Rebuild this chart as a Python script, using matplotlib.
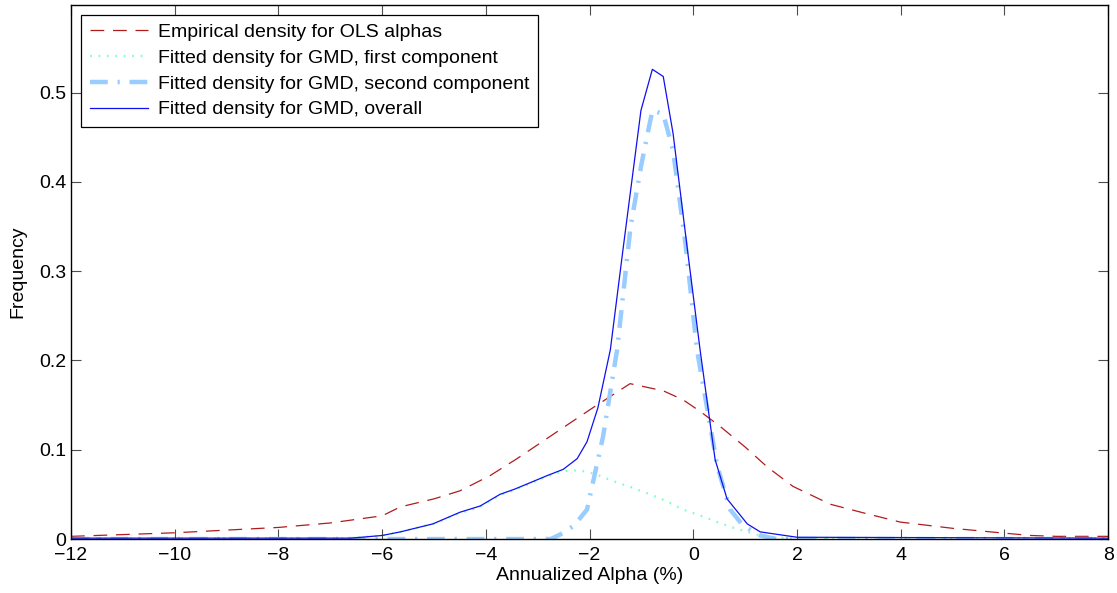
import numpy as np
import matplotlib
matplotlib.use("Agg")
import matplotlib.pyplot as plt
from matplotlib.ticker import FuncFormatter

plt.rcParams['font.family'] = ['Liberation Sans', 'DejaVu Sans']

# empirical density of OLS alphas
emp_x = [-12, -11, -10, -9, -8, -7, -6, -5.65, -5, -4.5, -3.92, -3.4, -2.76, -1.99,
         -1.22, -0.58, -0.2, 0.13, 0.52, 1.0, 1.42, 1.92, 2.64, 3.3, 3.99, 5.0,
         5.92, 6.5, 7, 8]
emp_y = [0.003, 0.005, 0.007, 0.010, 0.013, 0.018, 0.026, 0.036, 0.045, 0.054,
         0.071, 0.090, 0.115, 0.145, 0.174, 0.166, 0.156, 0.143, 0.126, 0.103,
         0.081, 0.059, 0.039, 0.029, 0.019, 0.012, 0.007, 0.004, 0.003, 0.003]

# GMD first component
first_x = [-12, -6.6, -6.0, -5.65, -5.02, -4.5, -4.11, -3.73, -3.44, -3.15, -2.82,
           -2.51, -2.2, -1.9, -1.55, -1.2, -0.83, -0.5, -0.2, 0.15, 0.46, 0.75,
           1.04, 1.42, 2.0, 8]
first_y = [0.001, 0.001, 0.004, 0.008, 0.017, 0.029, 0.036, 0.049, 0.055, 0.062,
           0.070, 0.076, 0.077, 0.073, 0.065, 0.058, 0.050, 0.042, 0.033, 0.026,
           0.019, 0.013, 0.008, 0.002, 0.001, 0.001]

# GMD second component
second_x = [-12, -2.75, -2.57, -2.3, -2.05, -1.74, -1.47, -1.21, -1.0, -0.79,
            -0.58, -0.39, -0.15, 0.07, 0.46, 0.71, 0.96, 1.29, 1.6, 8]
second_y = [0.0, 0.0, 0.005, 0.015, 0.033, 0.115, 0.212, 0.350, 0.420, 0.480,
            0.476, 0.435, 0.330, 0.212, 0.082, 0.033, 0.015, 0.004, 0.0, 0.0]

# GMD overall
all_x = [-12, -6.6, -6.0, -5.65, -5.02, -4.5, -4.11, -3.73, -3.44, -3.15, -2.82,
         -2.51, -2.24, -2.05, -1.84, -1.6, -1.35, -1.01, -0.79, -0.58, -0.39,
         -0.12, 0.13, 0.42, 0.65, 1.04, 1.29, 2.0, 8]
all_y = [0.001, 0.001, 0.004, 0.008, 0.017, 0.030, 0.037, 0.050, 0.056, 0.063,
         0.071, 0.078, 0.090, 0.109, 0.147, 0.212, 0.327, 0.480, 0.526, 0.518,
         0.454, 0.327, 0.212, 0.089, 0.045, 0.017, 0.008, 0.002, 0.001]

fig = plt.figure(figsize=(11.17, 5.93), dpi=100)
ax = fig.add_axes([0.0636, 0.091, 0.9285, 0.9005])

ax.plot(emp_x, emp_y, color='#b01c1c', lw=0.9, dashes=(11, 7),
        label='Empirical density for OLS alphas')
ax.plot(first_x, first_y, color='#80ffc4', lw=1.6, dashes=(0.8, 3),
        label='Fitted density for GMD, first component')
ax.plot(second_x, second_y, color='#99ccff', lw=3.2, dashes=(4, 2.2, 0.5, 2.2),
        label='Fitted density for GMD, second component')
ax.plot(all_x, all_y, color='#1010ee', lw=0.9,
        label='Fitted density for GMD, overall')

ax.set_xlim(-12, 8)
ax.set_ylim(0, 0.598)
ax.set_xticks(np.arange(-12, 9, 2))
ax.set_yticks([0, 0.1, 0.2, 0.3, 0.4, 0.5])
ax.yaxis.set_major_formatter(FuncFormatter(lambda v, p: '0' if v == 0 else f'{v:g}'))
ax.tick_params(direction='in', top=True, right=True, length=7, width=0.8,
               labelsize=14, color='0.3')
ax.tick_params(axis='x', pad=6)
for s in ax.spines.values():
    s.set_linewidth(1.0)

ax.set_xlabel('Annualized Alpha (%)', fontsize=14, labelpad=2)
ax.set_ylabel('Frequency', fontsize=14, labelpad=9)

leg = ax.legend(loc='upper left', fontsize=14, handlelength=3.0,
                borderaxespad=0.5, fancybox=False, framealpha=1,
                edgecolor='black', labelspacing=0.42, borderpad=0.45,
                handletextpad=0.5)
leg.get_frame().set_linewidth(0.9)

fig.savefig('out.png', dpi=100)
